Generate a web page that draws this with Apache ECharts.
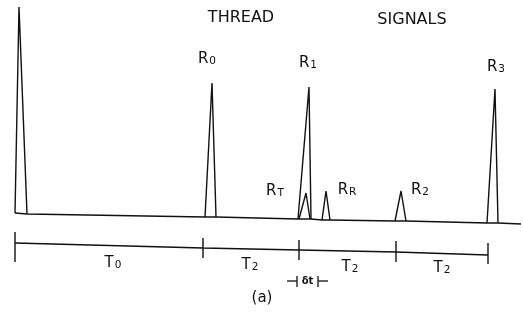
<!DOCTYPE html>
<html><head><meta charset="utf-8">
<script src="https://cdn.jsdelivr.net/npm/echarts@6/dist/echarts.min.js"></script>
<style>html,body{margin:0;padding:0;background:#fff}#c{width:523px;height:324px}</style>
</head><body><div id="c"></div>
<script>
// Baseline of the signal trace (x = time position, y = drawing height, measured downward)
const baseline = [[15,213],[27,214],[205,217],[216,217],[298,219],[311,219],[322,220],[330,220],[395,221],[406,221],[487,223],[498,223],[521,224]];
// Peaks: [leftBase, apex, rightBase]
const peak0 = [[15,213],[19,7],[20,7],[27,214]];
const peakR0 = [[205,217],[212,83],[216,217]];
const peakR1 = [[298,219],[309,87],[311,219]];
const peakRT = [[299,219],[306,193],[310,219]];
const peakRR = [[322,220],[326,191],[330,220]];
const peakR2 = [[395,221],[401,191],[406,221]];
const peakR3 = [[487,223],[495,89],[498,223]];
// Time scale line and its tick marks [x, top, bottom]
const timeLine = [[15,243],[203,248],[299,250],[396,252],[488,255]];
const tickPos = [[15,232,262],[203,238,258],[299,240,260],[396,241,262],[488,243,264]];
// Labels
const peakLabels = [
  {t:'R', s:'0', x:207, y:59},
  {t:'R', s:'1', x:308, y:63},
  {t:'R', s:'3', x:496, y:67},
  {t:'R', s:'T', x:275, y:191},
  {t:'R', s:'R', x:347, y:190},
  {t:'R', s:'2', x:420, y:190}
];
const intervalLabels = [
  {t:'T', s:'0', x:113, y:263},
  {t:'T', s:'2', x:250, y:265},
  {t:'T', s:'2', x:350, y:267},
  {t:'T', s:'2', x:442, y:268}
];

const chart = echarts.init(document.getElementById('c'));
const lineStyle = {color:'#111', width:1.4};
const series = [];
[baseline, peak0, peakR0, peakR1, peakRT, peakRR, peakR2, peakR3, timeLine].forEach(d =>
  series.push({type:'line', data:d, symbol:'none', lineStyle, animation:false}));
tickPos.forEach(p => series.push({type:'line', data:[[p[0],p[1]],[p[0],p[2]]], symbol:'none', lineStyle, animation:false}));
// delta-t marker
const dtMarks = [[[287,281],[297,281]],[[297,276],[297,287]],[[318,276],[318,287]],[[318,281],[328,281]]];
dtMarks.forEach(d => series.push({type:'line', data:d, symbol:'none', lineStyle:{color:'#111',width:1.3}, animation:false}));

const font = 'DejaVu Sans';
const mkLabel = (l, size) => ({
  type:'text', x:l.x, y:l.y,
  style:{text:'{m|'+l.t+'}{s|'+l.s+'}', textAlign:'center', textVerticalAlign:'middle',
    rich:{m:{fontFamily:font, fontSize:size, fill:'#111'}, s:{fontFamily:font, fontSize:size*0.7, fill:'#111', verticalAlign:'bottom', padding:[size*0.35,0,0,1]}}}
});
const graphics = [];
peakLabels.forEach(l => graphics.push(mkLabel(l, 15)));
intervalLabels.forEach(l => graphics.push(mkLabel(l, 15)));
graphics.push({type:'text', x:241, y:18, style:{text:'THREAD', font:'16px "DejaVu Sans"', fill:'#111', textAlign:'center', textVerticalAlign:'middle', letterSpacing:1}});
graphics.push({type:'text', x:412, y:20, style:{text:'SIGNALS', font:'16px "DejaVu Sans"', fill:'#111', textAlign:'center', textVerticalAlign:'middle', letterSpacing:2}});
graphics.push({type:'text', x:307.5, y:281, style:{text:'δt', font:'bold 10px "DejaVu Sans"', fill:'#111', textAlign:'center', textVerticalAlign:'middle'}});
graphics.push({type:'text', x:262, y:298, style:{text:'(a)', font:'15px "DejaVu Sans"', fill:'#111', textAlign:'center', textVerticalAlign:'middle'}});

chart.setOption({
  animation:false,
  backgroundColor:'#fff',
  grid:{left:0,right:0,top:0,bottom:0},
  xAxis:{type:'value', min:0, max:523, show:false},
  yAxis:{type:'value', min:0, max:324, inverse:true, show:false},
  series,
  graphic:graphics
});
</script></body></html>
